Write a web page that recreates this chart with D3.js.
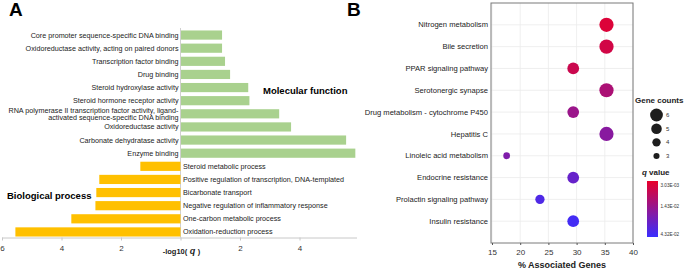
<!DOCTYPE html>
<html>
<head>
<meta charset="utf-8">
<script src="https://cdn.jsdelivr.net/npm/d3@7"></script>
<style>
  body { margin: 0; background: #fff; }
  svg text { font-family: "Liberation Sans", Arial, sans-serif; }
</style>
</head>
<body>
<script>
const WIDTH = 685;
const HEIGHT = 270;

// panel A: GO terms, -log10(q)
var mfTerms = ['Core promoter sequence-specific DNA binding', 'Oxidoreductase activity, acting on paired donors',
    'Transcription factor binding', 'Drug binding', 'Steroid hydroxylase activity', 'Steroid hormone receptor activity',
    'RNA polymerase II transcription factor activity, ligand-|activated sequence-specific DNA binding',
    'Oxidoreductase activity', 'Carbonate dehydratase activity', 'Enzyme binding'];
var mfValues = [1.38, 1.38, 1.48, 1.65, 2.26, 2.3, 3.3, 3.7, 5.55, 5.86];
var bpTerms = ['Steroid metabolic process', 'Positive regulation of transcription, DNA-templated', 'Bicarbonate transport',
    'Negative regulation of inflammatory response', 'One-carbon metabolic process', 'Oxidation-reduction process'];
var bpValues = [1.35, 2.73, 2.83, 2.86, 3.67, 5.55];
var aTicks = [-6, -4, -2, 0, 2, 4];

// panel B: KEGG pathways
var pathways = ['Nitrogen metabolism', 'Bile secretion', 'PPAR signaling pathway', 'Serotonergic synapse',
    'Drug metabolism - cytochrome P450', 'Hepatitis C', 'Linoleic acid metabolism', 'Endocrine resistance',
    'Prolactin signaling pathway', 'Insulin resistance'];
var assocPct = [35.3, 35.3, 29.4, 35.3, 29.4, 35.3, 17.6, 29.4, 23.5, 29.4];
var geneCounts = [6, 6, 5, 6, 5, 6, 3, 5, 4, 5];
var qValues = [0.00303, 0.00476, 0.00592, 0.0111, 0.0140, 0.0196, 0.0226, 0.0314, 0.0391, 0.0432];
var bTicks = [15, 20, 25, 30, 35, 40];
var countLegend = [6, 5, 4, 3];
var qBreaks = [0.00303, 0.0143, 0.0432];
var qLabels = ['3.03E-03', '1.43E-02', '4.32E-02'];

var svg = d3.select('body').append('svg')
    .attr('width', WIDTH)
    .attr('height', HEIGHT);

// ---------- panel A ----------
var allTerms = mfTerms.concat(bpTerms);
var xA = d3.scaleLinear().domain([-6, 6]).range([2, 359]);
var yA = d3.scaleBand().domain(allTerms).range([28.5, 238.5]).paddingInner(0.3).paddingOuter(0.15);

svg.append('text').attr('x', 9).attr('y', 16)
    .attr('font-size', 19).attr('font-weight', 'bold').text('A');

svg.append('line')
    .attr('x1', xA(0)).attr('x2', xA(0))
    .attr('y1', 28).attr('y2', 237.5)
    .attr('stroke', '#d0d0d0').attr('stroke-width', 1);

svg.append('g').selectAll('rect')
    .data(mfTerms)
    .enter().append('rect')
    .attr('x', xA(0) + 0.5)
    .attr('y', function (d) { return yA(d); })
    .attr('width', function (d, i) { return xA(mfValues[i]) - xA(0); })
    .attr('height', yA.bandwidth())
    .attr('fill', '#a9d18e');

svg.append('g').selectAll('rect')
    .data(bpTerms)
    .enter().append('rect')
    .attr('x', function (d, i) { return xA(-bpValues[i]); })
    .attr('y', function (d) { return yA(d); })
    .attr('width', function (d, i) { return xA(0) - xA(-bpValues[i]); })
    .attr('height', yA.bandwidth())
    .attr('fill', '#ffc000');

var mfLabels = svg.append('g').selectAll('text')
    .data(mfTerms)
    .enter().append('text')
    .attr('x', xA(0) - 2)
    .attr('y', function (d) { return yA(d) + yA.bandwidth() / 2; })
    .attr('text-anchor', 'end')
    .attr('font-size', 7.2)
    .attr('fill', '#222');
mfLabels.each(function (d) {
    var parts = d.split('|');
    var t = d3.select(this);
    parts.forEach(function (p, k) {
        t.append('tspan')
            .attr('x', xA(0) - 2)
            .attr('dy', k === 0 ? (parts.length > 1 ? '-0.15em' : '0.35em') : '1.05em')
            .text(p);
    });
});

svg.append('g').selectAll('text')
    .data(bpTerms)
    .enter().append('text')
    .attr('x', xA(0) + 2.5)
    .attr('y', function (d) { return yA(d) + yA.bandwidth() / 2; })
    .attr('dy', '0.35em')
    .attr('font-size', 7.2)
    .attr('fill', '#222')
    .text(function (d) { return d; });

svg.append('text').attr('x', 263).attr('y', 94)
    .attr('font-size', 9.5).attr('font-weight', 'bold').text('Molecular function');
svg.append('text').attr('x', 7).attr('y', 199)
    .attr('font-size', 9.5).attr('font-weight', 'bold').text('Biological process');

var axA = svg.append('g')
    .attr('transform', 'translate(0,237.5)')
    .call(d3.axisBottom(xA).tickValues(aTicks).tickSize(3).tickSizeOuter(0)
        .tickFormat(function (d) { return d === 0 ? '' : Math.abs(d); }));
axA.select('.domain').attr('stroke', '#c8c8c8').attr('d', 'M2,0.5H357');
axA.selectAll('.tick line').attr('stroke', '#c8c8c8');
axA.selectAll('.tick text').attr('font-size', 8).attr('fill', '#333').attr('dy', '0.9em')
    .attr('font-family', '"Liberation Sans", Arial, sans-serif');

var qTitle = svg.append('text').attr('x', xA(0) + 1).attr('y', 253.5)
    .attr('text-anchor', 'middle').attr('font-size', 7.5).attr('font-weight', 'bold').attr('fill', '#222');
qTitle.append('tspan').text('-log10(');
qTitle.append('tspan').attr('font-style', 'italic').attr('font-size', 9).text(' q ');
qTitle.append('tspan').text(')');

// ---------- panel B ----------
var plotL = 491, plotR = 633, plotT = 3, plotB = 243;
var xB = d3.scaleLinear().domain([15, 40]).range([plotL + 1, plotR]);
var yB = d3.scalePoint().domain(pathways).range([plotT, plotB]).padding(1);
var rB = d3.scaleLinear().domain([3, 6]).range([3.4, 7.1]);
var legendTop = 181, legendBot = 237;
var qPos = d3.scaleLinear().domain(qBreaks).range([0.07, 0.46, 0.95]);
var qColor = d3.interpolateRgb('#e8002a', '#3a2eff');

svg.append('text').attr('x', 347).attr('y', 16)
    .attr('font-size', 19).attr('font-weight', 'bold').text('B');

var grid = svg.append('g');
grid.selectAll('.vg')
    .data(bTicks)
    .enter().append('line')
    .attr('x1', function (d) { return xB(d); }).attr('x2', function (d) { return xB(d); })
    .attr('y1', plotT).attr('y2', plotB)
    .attr('stroke', '#ebebeb').attr('stroke-width', 0.8);
grid.selectAll('.hg')
    .data(pathways)
    .enter().append('line')
    .attr('x1', plotL).attr('x2', plotR)
    .attr('y1', function (d) { return yB(d); }).attr('y2', function (d) { return yB(d); })
    .attr('stroke', '#ebebeb').attr('stroke-width', 0.8);

svg.append('g').selectAll('circle')
    .data(pathways)
    .enter().append('circle')
    .attr('cx', function (d, i) { return xB(assocPct[i]); })
    .attr('cy', function (d) { return yB(d); })
    .attr('r', function (d, i) { return rB(geneCounts[i]); })
    .attr('fill', function (d, i) { return qColor(qPos(qValues[i])); });

svg.append('rect')
    .attr('x', plotL).attr('y', plotT)
    .attr('width', plotR - plotL).attr('height', plotB - plotT)
    .attr('fill', 'none').attr('stroke', '#7a7a7a').attr('stroke-width', 1);

svg.append('g').selectAll('text')
    .data(pathways)
    .enter().append('text')
    .attr('x', plotL - 3)
    .attr('y', function (d) { return yB(d); })
    .attr('dy', '0.35em')
    .attr('text-anchor', 'end')
    .attr('font-size', 7.6)
    .attr('fill', '#222')
    .text(function (d) { return d; });

var axB = svg.append('g')
    .attr('transform', 'translate(0,' + plotB + ')')
    .call(d3.axisBottom(xB).tickValues(bTicks).tickSize(2).tickSizeOuter(0));
axB.select('.domain').remove();
axB.selectAll('.tick line').attr('stroke', '#555');
axB.selectAll('.tick text').attr('font-size', 8).attr('fill', '#333').attr('dy', '0.85em')
    .attr('font-family', '"Liberation Sans", Arial, sans-serif');

svg.append('text').attr('x', (plotL + plotR) / 2).attr('y', 268)
    .attr('text-anchor', 'middle').attr('font-size', 9).attr('font-weight', 'bold').attr('fill', '#222')
    .text('% Associated Genes');

// size legend
svg.append('text').attr('x', 635).attr('y', 103)
    .attr('font-size', 8).attr('font-weight', 'bold').attr('fill', '#222').text('Gene counts');
var sizeY = d3.scalePoint().domain(countLegend).range([115, 156]);
svg.append('g').selectAll('circle')
    .data(countLegend)
    .enter().append('circle')
    .attr('cx', 656.5)
    .attr('cy', function (d) { return sizeY(d); })
    .attr('r', function (d) { return rB(d) * 0.9; })
    .attr('fill', '#1e1e1e');
svg.append('g').selectAll('text')
    .data(countLegend)
    .enter().append('text')
    .attr('x', 666)
    .attr('y', function (d) { return sizeY(d); })
    .attr('dy', '0.35em')
    .attr('font-size', 6)
    .attr('fill', '#333')
    .text(function (d) { return d; });

// colour legend
var qHead = svg.append('text').attr('x', 642).attr('y', 175)
    .attr('font-size', 8).attr('font-weight', 'bold').attr('fill', '#222');
qHead.append('tspan').attr('font-style', 'italic').text('q');
qHead.append('tspan').text(' value');

var grad = svg.append('defs').append('linearGradient')
    .attr('id', 'qgrad').attr('x1', 0).attr('x2', 0).attr('y1', 0).attr('y2', 1);
d3.range(0, 1.0001, 0.1).forEach(function (t) {
    grad.append('stop').attr('offset', t).attr('stop-color', qColor(t));
});
svg.append('rect')
    .attr('x', 647).attr('y', legendTop)
    .attr('width', 11).attr('height', legendBot - legendTop)
    .attr('fill', 'url(#qgrad)');
svg.append('g').selectAll('text')
    .data(qBreaks)
    .enter().append('text')
    .attr('x', 660.5)
    .attr('y', function (d) { return legendTop + qPos(d) * (legendBot - legendTop); })
    .attr('dy', '0.35em')
    .attr('font-size', 4.6)
    .attr('fill', '#333')
    .text(function (d, i) { return qLabels[i]; });
</script>
</body>
</html>
